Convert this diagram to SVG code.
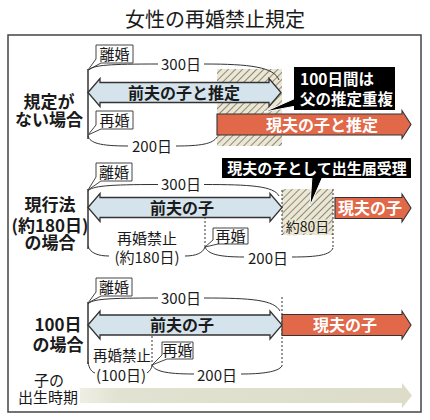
<svg xmlns="http://www.w3.org/2000/svg" width="430" height="420" viewBox="0 0 430 420">
<defs>
<pattern id="hatch" width="5" height="5" patternUnits="userSpaceOnUse" patternTransform="rotate(45)">
<rect width="5" height="5" fill="#ebe7d2"/>
<line x1="0" y1="0" x2="0" y2="5" stroke="#555" stroke-width="1.3"/>
</pattern>
<linearGradient id="timeg" x1="80" y1="0" x2="412" y2="0" gradientUnits="userSpaceOnUse">
<stop offset="0" stop-color="#eeeee4"/>
<stop offset="0.12" stop-color="#e2e2d2"/>
<stop offset="1" stop-color="#dcdcc9"/>
</linearGradient>
<style>
text{font-family:"Noto Sans CJK JP","Noto Sans",sans-serif;fill:#1a1a1a}
.title{font-size:20px;text-anchor:middle}
.lbl{font-size:17px;font-weight:bold;text-anchor:middle}
.t15{font-size:15px;text-anchor:middle}
.box{fill:#fff;stroke:#444;stroke-width:1}
.boxt{font-size:15px;text-anchor:middle}
.blue{fill:#d5e3ec;stroke:#333;stroke-width:1.3;stroke-linejoin:miter}
.orange{fill:#e2684a;stroke:#333;stroke-width:1.1}
.at{font-size:16px;font-weight:bold;text-anchor:middle}
.wt{fill:#fff}
.br{fill:none;stroke:#333;stroke-width:1}
.dot{stroke:#333;stroke-width:1;stroke-dasharray:2,2}
.vl{stroke:#333;stroke-width:1.5}
.blk{fill:#000}
</style>
</defs>
<rect width="430" height="420" fill="#fff"/>
<text class="title" x="215" y="27">女性の再婚禁止規定</text>
<rect x="8" y="35" width="413" height="377" fill="none" stroke="#444" stroke-width="1.5"/>

<g id="section1">
<rect x="217" y="69" width="65" height="77" fill="url(#hatch)"/>
<text class="lbl" x="49" y="107.5">規定が</text>
<text class="lbl" x="49" y="125.5">ない場合</text>
<line class="vl" x1="88" y1="69" x2="88" y2="139"/>
<g id="s1-divorce"><path class="box" d="M96,45 H133 V63 H101 L88,70 L96,59 Z"/><text class="boxt" x="114.5" y="59.5">離婚</text></g>
<g id="s1-remarry"><path class="box" d="M96,111 H133 V129 H101 L88,135 L96,125 Z"/><text class="boxt" x="114.5" y="125.5">再婚</text></g>
<path class="br" d="M89,70 C93,65 110,64 158,64 M204,64 C250,64 274,67 279,80"/>
<text class="t15" x="181" y="70">300日</text>
<path class="br" d="M88,136 C90,143 100,146 128,146 M176,146 C200,146 213,144 217,137"/>
<text class="t15" x="152" y="151.5">200日</text>
<g id="s1-prev"><path class="blue" d="M88,92.5 L100,78.5 V82.5 H269 V78.5 L281,92.5 L269,106.5 V102.5 H100 V106.5 Z"/><text class="at" x="184" y="98.5">前夫の子と推定</text></g>
<g id="s1-curr"><path class="orange" d="M217,114 H402 V110.5 L411,124.5 L402,138.5 V135 H217 Z"/><text class="at wt" x="322" y="130.5">現夫の子と推定</text></g>
<g id="s1-note"><polygon points="296,98 296,106 264,112" fill="#000" stroke="#fff" stroke-width="1"/><rect x="294" y="67" width="101" height="43" class="blk"/><text class="at wt" x="300" y="85" style="text-anchor:start;font-size:15.5px">100日間は</text><text class="at wt" x="300" y="104.5" style="text-anchor:start;font-size:15.5px">父の推定重複</text></g>
</g>

<g id="section2">
<rect x="282" y="189" width="51" height="46" fill="url(#hatch)"/>
<text x="307.5" y="231.5" style="font-size:14px;text-anchor:middle;paint-order:stroke;stroke:#ebe7d2;stroke-width:3">約80日</text>
<line class="dot" x1="282" y1="190" x2="282" y2="235"/>
<line class="dot" x1="333" y1="189" x2="333" y2="249"/>
<line class="dot" x1="205" y1="217" x2="205" y2="247"/>
<text class="lbl" x="50" y="211">現行法</text>
<text class="lbl" x="50" y="232">(約180日)</text>
<text class="lbl" x="50" y="249">の場合</text>
<line class="vl" x1="88" y1="189" x2="88" y2="249"/>
<g id="s2-divorce"><path class="box" d="M96,163 H132 V181 H101 L88,190 L96,177 Z"/><text class="boxt" x="114" y="177.5">離婚</text></g>
<g id="s2-remarry"><path class="box" d="M213,228 H248 V244 H218 L205,247 L213,240 Z"/><text class="boxt" x="230.5" y="241.5">再婚</text></g>
<path class="br" d="M88,191 C92,186 108,184.5 158,184.5 M204,184.5 C250,184.5 274,186 279,196"/>
<text class="t15" x="181" y="190">300日</text>
<text class="t15" x="147" y="243.5">再婚禁止</text>
<path class="br" d="M88,246 C90,253 98,256 109,256 M185,256 C196,256 203,253 205,247"/>
<text class="t15" x="147" y="262.5">(約180日)</text>
<path class="br" d="M205,247 C208,254 218,257 244,257 M292,257 C318,257 330,255 333,248"/>
<text class="t15" x="268" y="263.5">200日</text>
<g id="s2-prev"><path class="blue" d="M88,207.5 L100,193.5 V197.5 H270 V193.5 L282,207.5 L270,221.5 V217.5 H100 V221.5 Z"/><text class="at" x="182" y="213.5">前夫の子</text></g>
<g id="s2-curr"><path class="orange" d="M335,197.5 H402 V194 L411,208 L402,222 V218.5 H335 Z"/><text class="at wt" x="370" y="214">現夫の子</text></g>
<g id="s2-note"><polygon points="312,176 323,176 310,206" fill="#000" stroke="#fff" stroke-width="1"/><rect x="222" y="158" width="189" height="20" class="blk"/><text class="at wt" x="317" y="173.5" style="font-size:15px">現夫の子として出生届受理</text></g>
</g>

<g id="section3">
<line class="dot" x1="282" y1="297" x2="282" y2="366"/>
<line class="dot" x1="152" y1="336" x2="152" y2="365"/>
<text class="lbl" x="58" y="331">100日</text>
<text class="lbl" x="58" y="351">の場合</text>
<line class="vl" x1="88" y1="302" x2="88" y2="364"/>
<g id="s3-divorce"><path class="box" d="M96,278 H132 V296 H101 L88,303 L96,292 Z"/><text class="boxt" x="114" y="292.5">離婚</text></g>
<g id="s3-remarry"><path class="box" d="M162,342 H193 V359 H167 L152,365 L162,355 Z"/><text class="boxt" x="177.5" y="356">再婚</text></g>
<path class="br" d="M88,304 C92,299 108,298 158,298 M204,298 C252,298 274,300 280,311"/>
<text class="t15" x="181" y="303.5">300日</text>
<text class="t15" x="122" y="360.5" style="font-size:14.5px">再婚禁止</text>
<path class="br" d="M88,362 C89,369 92,372 95,373 M147,373 C150,371 152,368 152,365"/>
<text class="t15" x="121" y="380.5">(100日)</text>
<path class="br" d="M152,365 C155,371 165,374 194,374 M241,374 C262,374 278,372 282,366"/>
<text class="t15" x="217" y="380.5">200日</text>
<g id="s3-prev"><path class="blue" d="M88,325 L100,311 V315 H270 V311 L282,325 L270,339 V335 H100 V339 Z"/><text class="at" x="182" y="331">前夫の子</text></g>
<g id="s3-curr"><path class="orange" d="M282,314.5 H402 V311 L411,325 L402,339 V335.5 H282 Z"/><text class="at wt" x="345" y="331">現夫の子</text></g>
</g>

<g id="timeline">
<text class="t15" x="49" y="386">子の</text>
<text class="t15" x="48" y="402.5">出生時期</text>
<path d="M80,388 H402 V383 L412,395.5 L402,408 V403 H80 Z" fill="url(#timeg)"/>
</g>
</svg>
